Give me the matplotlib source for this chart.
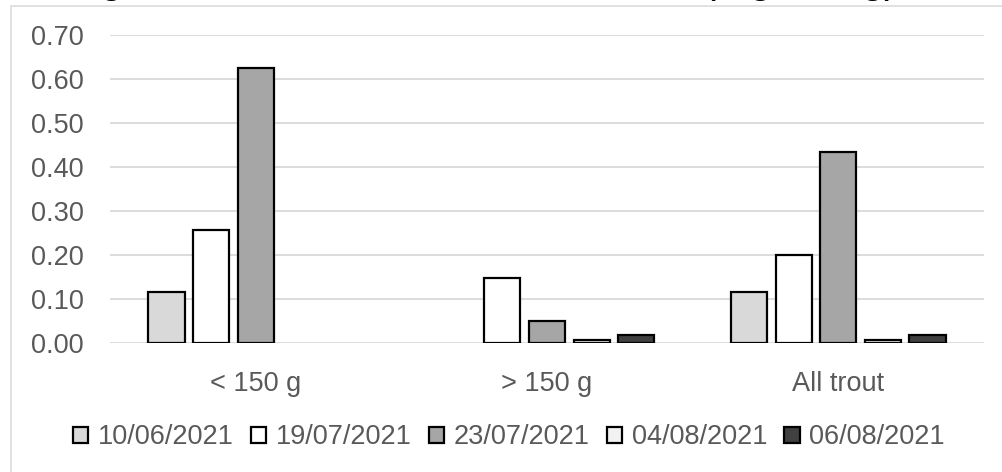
import numpy as np
import matplotlib
matplotlib.use("Agg")
import matplotlib.pyplot as plt
from matplotlib.patches import Rectangle

# Data: concentration by size class and sampling date
categories = ["< 150 g", "> 150 g", "All trout"]
dates = ["10/06/2021", "19/07/2021", "23/07/2021", "04/08/2021", "06/08/2021"]
values_100621 = [0.115, np.nan, 0.115]
values_190721 = [0.256, 0.147, 0.201]
values_230721 = [0.625, 0.049, 0.433]
values_040821 = [np.nan, 0.006, 0.006]
values_060821 = [np.nan, 0.019, 0.019]
y_ticks = [0.0, 0.1, 0.2, 0.3, 0.4, 0.5, 0.6, 0.7]
title_text = "Average concentrations in trout muscle (mg/100 g)"

series = [values_100621, values_190721, values_230721, values_040821, values_060821]
fills = ["#D9D9D9", "#FFFFFF", "#A6A6A6", "#F2F2F2", "#404040"]

plt.rcParams["font.family"] = ["Liberation Sans", "DejaVu Sans"]
text_color = "#595959"
grid_color = "#D9D9D9"
fs = 19.5

W, H = 1002, 472
fig = plt.figure(figsize=(W / 100, H / 100), dpi=100)
fig.patch.set_facecolor("white")

# Chart area border (extends past the right and bottom edges)
fig.patches.append(Rectangle((10.5 / W, -0.2), 1.2, 1.2 - 5.5 / H,
                             transform=fig.transFigure, fill=False,
                             edgecolor=grid_color, linewidth=1.1))

ax = fig.add_axes([110 / W, 1 - 343 / H, (984 - 110) / W, (343 - 35) / H])
ax.set_facecolor("none")

x = np.arange(len(categories))
slot = 0.153
bar_w = 0.124
for i, (vals, fc, lab) in enumerate(zip(series, fills, dates)):
    ax.bar(x + (i - 2) * slot, vals, width=bar_w, color=fc,
           edgecolor="black", linewidth=1.6, label=lab, zorder=3)

ax.set_xlim(-0.5, len(categories) - 0.5)
ax.set_ylim(0, 0.70)
ax.set_yticks(y_ticks)
ax.set_yticklabels([f"{v:.2f}" for v in y_ticks])
ax.set_xticks(x)
ax.set_xticklabels(categories)
ax.tick_params(axis="y", length=0, pad=19, labelsize=fs, labelcolor=text_color)
ax.tick_params(axis="x", length=0, pad=20, labelsize=fs, labelcolor=text_color)
ax.grid(axis="y", color=grid_color, linewidth=1.3, zorder=0)
for s in ax.spines.values():
    s.set_visible(False)

# Title sits above the visible area; only its descenders reach inside
fig.text(-4 / W, 1 + 7.5 / H, title_text, fontsize=29, color="black",
         ha="left", va="baseline")

leg = fig.legend(loc="center left", bbox_to_anchor=(73 / W, 1 - 437.5 / H),
                 ncol=5, frameon=False, fontsize=fs, borderpad=0,
                 borderaxespad=0, handlelength=0.57, handleheight=0.57,
                 handletextpad=0.36, columnspacing=0.62)
for t in leg.get_texts():
    t.set_color(text_color)

fig.savefig("out.png", dpi=100, facecolor="white")
